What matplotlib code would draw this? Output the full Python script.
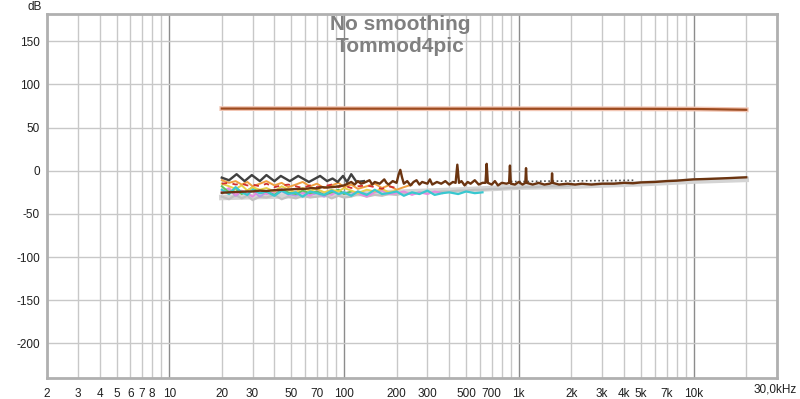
import numpy as np
from matplotlib import pyplot as plt
from matplotlib.ticker import FixedLocator, NullFormatter

plt.rcParams['font.family'] = ['Liberation Sans', 'DejaVu Sans']

# level trace (top line)
top_f = [20, 100, 1000, 5000, 10000, 13000, 16000, 20000]
top_db = [72.0, 71.9, 71.8, 71.7, 71.5, 71.2, 70.9, 70.6]

# main brown trace
brown_f = [20, 22, 25, 28, 30, 33, 36, 40, 45, 50, 55, 60, 65, 70, 75, 80, 90, 100,
           105, 110, 115, 120, 125, 130, 140, 145, 150, 160, 170, 175, 180, 190, 200,
           205, 210, 215, 220, 230, 240, 250, 260, 270, 280, 300, 310, 320, 340, 360,
           380, 400, 420, 435, 445, 455, 470, 490, 510, 530, 560, 590, 620, 645, 655,
           665, 700, 730, 760, 800, 850, 880, 890, 900, 950, 1000, 1050, 1090, 1100,
           1110, 1200, 1300, 1400, 1500, 1540, 1550, 1560, 1700, 1900, 2100, 2300,
           2600, 3000, 3500, 4000, 4500, 5000, 6000, 7000, 8000, 10000, 12000, 14000,
           16000, 18000, 20000]
brown_db = [-25.5, -25, -24.5, -24, -24, -23, -23.5, -22.5, -22, -21.5, -21, -21, -20,
            -20.5, -19, -19.5, -18.5, -17,
            -15, -13, -16, -12, -15, -14, -11, -16, -13, -15, -10, -14, -16, -12, -14,
            -5, 1, -8, -15, -12, -17, -13, -11, -16, -13, -15, -10, -16, -13, -15,
            -12, -16, -13, -14, 7, -14, -12, -17, -13, -15, -11, -16, -14, -14, 8,
            -14, -16, -12, -17, -14, -15, -14, 6, -15, -16, -13, -16, -14, 3,
            -14, -16, -14, -16, -15, -14, -3, -14, -16, -15, -16, -15,
            -16, -15, -15, -14, -14.5, -13.5, -13, -12, -11.5, -10, -9.5, -9,
            -8.5, -8, -7.6]

# dark grey trace with low-frequency peaks
dark_f = [20, 22, 24.3, 27, 29.7, 33, 36, 40, 43.5, 49, 54.7, 63, 73, 80, 86, 92, 98.7,
          104, 110, 118, 130]
dark_db = [-8, -11, -4, -12, -5, -12, -5, -12, -6, -12, -6, -13, -6, -12, -9, -13, -6,
           -13, -4, -13, -12]

# shared frequencies for the noise traces
noise_f = [20, 22, 24, 26, 28, 30, 33, 36, 40, 44, 48, 53, 58, 64, 70, 77, 85, 93,
           100, 110, 120, 135, 150, 165, 180, 200, 220, 245, 270, 300, 330, 365, 400,
           450, 500, 560, 620, 700, 780, 870, 970, 1100, 1250, 1400, 1600, 1800, 2000]

ltgrey_db = [-30, -33, -28, -32, -29, -34, -30, -31, -28, -33, -30, -32, -29, -31, -30,
             -28, -32, -29, -31, -30, -27, -30, -28, -29, -27, -28, -26, -27, -25, -26,
             -25, -24, -24, -23, -23, -22, -22, -21, -21, -20, -20, -19, -19, -18, -18,
             -18, -17]
purple_db = [-26, -22, -29, -24, -27, -23, -30, -25, -28, -24, -27, -29, -25, -28, -26,
             -30, -24, -27, -25, -28, -24, -27]
pink_db = [-24, -20, -28, -23, -26, -30, -22, -27, -25, -21, -28, -24, -26, -29, -23,
           -25, -28, -22, -27, -24, -26, -30, -25, -23, -27, -26, -24, -28, -25, -27,
           -24, -26]
green_db = [-18, -25, -21, -27, -23, -19, -26, -24, -28, -22, -25, -27, -23, -26, -24,
            -28, -25, -22, -27, -24]
yellow_db = [-15, -18, -21, -17, -23, -19, -22, -20, -24, -18, -22, -25, -20, -23, -21,
             -25, -22, -24, -20, -23, -26, -22, -24, -21, -25, -23]
orange_db = [-11, -14, -12, -16, -13, -18, -15, -12, -17, -14, -19, -16, -13, -18, -15,
             -20, -17, -14, -19, -16, -21, -18, -15, -20, -17, -22, -19, -16]
red_db = [-15, -14, -16, -15, -17, -16, -18, -15, -19, -17, -16, -18, -20, -17, -19,
          -18, -16, -19, -17, -20, -18, -17, -19, -21, -18, -20]
cyan_db = [-22, -27, -19, -25, -28, -22, -26, -24, -29, -23, -27, -25, -30, -24, -26,
           -28, -23, -27, -25, -29, -24, -28, -22, -27, -26, -24, -29, -25, -27, -23,
           -28, -26, -25, -27, -24, -26, -25]

# light band under the brown trace
band_f = [20, 30, 50, 100, 200, 500, 1000, 2000, 3000, 5000, 10000, 20000]
band_db = [-31, -30, -29, -27, -25, -22, -19, -18, -16.5, -15, -12, -10]

# dotted trace
dot_f = [900, 1100, 1400, 1800, 2200, 2700, 3300, 4000, 4600]
dot_db = [-12.5, -12.5, -12, -12, -11.8, -11.5, -11.5, -11.2, -11]

xt = [2, 3, 4, 5, 6, 7, 8, 10, 20, 30, 50, 70, 100, 200, 300, 500, 700,
      1000, 2000, 3000, 4000, 5000, 7000, 10000]
xt_labels = ['2', '3', '4', '5', '6', '7', '8', '10', '20', '30', '50', '70', '100',
             '200', '300', '500', '700', '1k', '2k', '3k', '4k', '5k', '7k', '10k']
yt = [-200, -150, -100, -50, 0, 50, 100, 150]

fig = plt.figure(figsize=(8, 3.99), dpi=100)
ax = fig.add_axes([47 / 800, 21 / 399, 730 / 800, 364 / 399])
ax.set_xscale('log')
ax.set_xlim(2, 30000)
ax.set_ylim(-240, 181.5)

# grid
minor = [m * 10 ** e for e in range(0, 5) for m in range(2, 10)]
minor = [v for v in minor if 2 <= v <= 30000]
for v in minor:
    ax.axvline(v, color='#c8c8c8', lw=1, zorder=0)
for v in [10, 100, 1000, 10000]:
    ax.axvline(v, color='#8c8c8c', lw=1, zorder=0)
for v in yt:
    ax.axhline(v, color='#c8c8c8', lw=1, zorder=0)

# traces
ax.plot(band_f, band_db, color='#d4d4d4', lw=4, zorder=1)
ax.plot(noise_f, ltgrey_db, color='#c0c0c0', lw=1.6, zorder=2)
ax.plot(noise_f[:len(purple_db)], purple_db, color='#b89ae6', lw=1.4, zorder=2)
ax.plot(noise_f[:len(pink_db)], pink_db, color='#e88ae0', lw=1.4, zorder=2)
ax.plot(noise_f[:len(green_db)], green_db, color='#5cc45c', lw=1.4, zorder=2)
ax.plot(noise_f[:len(yellow_db)], yellow_db, color='#e6d24a', lw=1.4, zorder=2)
ax.plot(noise_f[:len(orange_db)], orange_db, color='#f0a040', lw=1.4, zorder=2)
ax.plot(noise_f[:len(cyan_db)], cyan_db, color='#38c8d0', lw=1.6, zorder=3)
ax.plot(noise_f[:len(red_db)], red_db, color='#d03030', lw=1.3, ls=(0, (3, 3)), zorder=3)
ax.plot(dark_f, dark_db, color='#404040', lw=1.7, zorder=4)
ax.plot(dot_f, dot_db, color='#505050', lw=1.2, ls=(0, (1, 1.5)), zorder=4)
ax.plot(brown_f, brown_db, color='#6b3410', lw=1.7, zorder=5)
ax.plot(top_f, top_db, color='#f2c6b4', lw=3.5, zorder=5)
ax.plot(top_f, top_db, color='#9c4a1e', lw=1.6, zorder=6)

# ticks
ax.xaxis.set_major_locator(FixedLocator(xt))
ax.xaxis.set_minor_locator(FixedLocator([]))
ax.xaxis.set_minor_formatter(NullFormatter())
ax.set_xticklabels(xt_labels)
ax.set_yticks(yt)
ax.set_yticklabels([str(v) for v in yt])
ax.tick_params(axis='both', length=0, labelsize=8.5, colors='#202020')
ax.tick_params(axis='x', pad=7)
ax.tick_params(axis='y', pad=5)

for s in ax.spines.values():
    s.set_color('#b0b0b0')
    s.set_linewidth(2)

fig.text(42 / 800, 1 - 0.5 / 399, 'dB', ha='right', va='top', fontsize=8.5, color='#202020')
fig.text(797 / 800, 1 - 389.5 / 399, '30,0kHz', ha='right', va='center', fontsize=8.5,
         color='#202020')

fig.text(400 / 800, 1 - 25 / 399, 'No smoothing', ha='center', va='center',
         fontsize=15, fontweight='bold', color='#808080')
fig.text(400 / 800, 1 - 47 / 399, 'Tommod4pic', ha='center', va='center',
         fontsize=15, fontweight='bold', color='#808080')

plt.savefig('out.png', dpi=100)
